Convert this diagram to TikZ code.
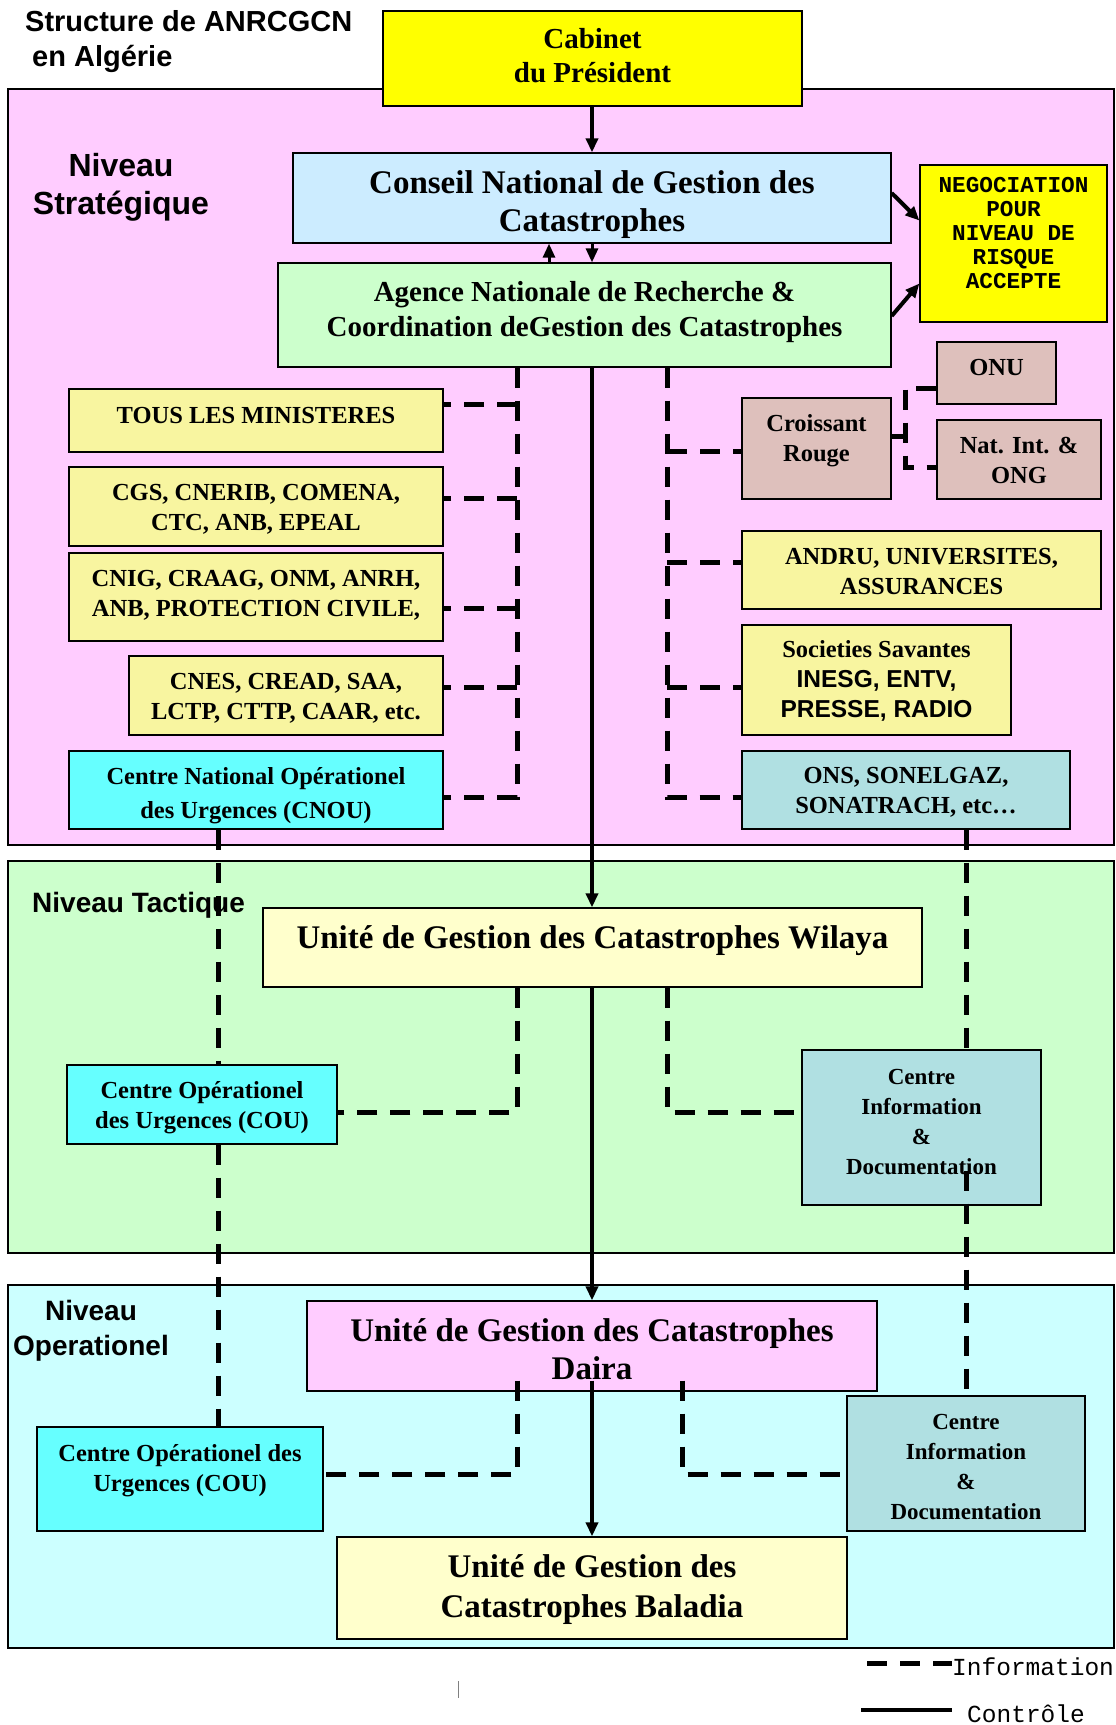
\documentclass[tikz,border=0pt]{standalone}
\usepackage{fontspec}
\setmainfont{Liberation Serif}
\setsansfont{Liberation Sans}
\setmonofont{Liberation Mono}
\usepackage{xcolor}
\usetikzlibrary{arrows.meta}
\usetikzlibrary{calc}

\definecolor{jaune}{RGB}{255,255,0}
\definecolor{jaunepale}{RGB}{248,245,160}
\definecolor{creme}{RGB}{255,255,204}
\definecolor{rose}{RGB}{255,204,255}
\definecolor{vertpale}{RGB}{204,255,204}
\definecolor{cielpale}{RGB}{204,255,255}
\definecolor{bleuciel}{RGB}{204,236,255}
\definecolor{cyanvif}{RGB}{102,255,255}
\definecolor{brique}{RGB}{222,192,188}
\definecolor{grisbleu}{RGB}{176,224,226}

% box text, lifted by #1 without changing the box
\newcommand{\monte}[2]{\raisebox{#1}[\height][\depth]{\begin{tabular}{@{}c@{}}#2\end{tabular}}}

\tikzset{
	panel/.style={draw, line width=1.5pt},
	box/.style={draw, line width=1.3pt, inner sep=0pt, font=\bfseries\fontsize{24.5}{30}\selectfont},
	ctrl/.style={line width=4pt, -{Triangle[length=14pt,width=12pt]}},
	info/.style={line width=5pt, dash pattern=on 20pt off 13pt},
	niveau/.style={inner sep=0pt, align=center, font=\sffamily\bfseries\fontsize{28}{35}\selectfont},
	legende/.style={inner sep=0pt, font=\ttfamily\fontsize{24.5}{30}\selectfont}
}

\begin{document}
\begin{tikzpicture}[x=1pt, y=-1pt] % ANRCGCN structure
	\useasboundingbox (0,0) rectangle (1116,1725);
	
	%levels
	\draw[panel, fill=rose] (8,89) rectangle (1114,845);
	\draw[panel, fill=vertpale] (8,861) rectangle (1114,1253);
	\draw[panel, fill=cielpale] (8,1285) rectangle (1114,1648);
	
	\node[niveau, align=left, anchor=north west, font=\sffamily\bfseries\fontsize{29}{35}\selectfont] (titre) at (25,10) {Structure de ANRCGCN\\\hspace*{7pt}en Algérie};
	\node[niveau, anchor=north, font=\sffamily\bfseries\fontsize{32}{38}\selectfont] (nstrat) at (121,153) {Niveau\\Stratégique};
	\node[niveau, anchor=north west] (ntact) at (32,892) {Niveau Tactique};
	\node[niveau, anchor=north] (noper) at (91,1300) {Niveau\\Operationel};
	
	%strategic boxes
	\node[box, fill=jaune, minimum width=419, minimum height=95, font=\bfseries\fontsize{29}{34}\selectfont] (cab) at (592.5,58.5) {\monte{0pt}{Cabinet\\du Président}};
	\node[box, fill=bleuciel, minimum width=598, minimum height=90, font=\bfseries\fontsize{33}{38}\selectfont] (cons) at (592,198) {\monte{-7pt}{Conseil National de Gestion des\\Catastrophes}};
	\node[box, fill=vertpale, minimum width=613, minimum height=104, font=\bfseries\fontsize{29}{35}\selectfont] (agence) at (584.5,315) {\monte{3pt}{Agence Nationale de Recherche \&\\Coordination deGestion des Catastrophes}};
	\node[box, fill=jaune, minimum width=187, minimum height=157, font=\ttfamily\bfseries\fontsize{22.7}{24}\selectfont] (nego) at (1013.5,243.5) {\monte{8pt}{NEGOCIATION\\POUR\\NIVEAU DE\\RISQUE\\ACCEPTE}};
	
	\node[box, fill=jaunepale, minimum width=374, minimum height=63] (tous) at (256,420.5) {\monte{3pt}{TOUS LES MINISTERES}};
	\node[box, fill=jaunepale, minimum width=374, minimum height=79] (cgs) at (256,506.5) {\monte{-3pt}{CGS, CNERIB, COMENA,\\CTC, ANB, EPEAL}};
	\node[box, fill=jaunepale, minimum width=374, minimum height=88] (cnig) at (256,597) {\monte{1.5pt}{CNIG, CRAAG, ONM, ANRH,\\ANB, PROTECTION CIVILE,}};
	\node[box, fill=jaunepale, minimum width=314, minimum height=79] (cnes) at (286,695.5) {\monte{-3pt}{CNES, CREAD, SAA,\\LCTP, CTTP, CAAR, etc.}};
	\node[box, fill=cyanvif, minimum width=374, minimum height=78, font=\bfseries\fontsize{24.5}{34}\selectfont] (cnou) at (256,790) {\monte{-5pt}{Centre National Opérationel\\des Urgences (CNOU)}};
	
	\node[box, fill=brique, minimum width=119, minimum height=62] (onu) at (996.5,373) {\monte{4pt}{ONU}};
	\node[box, fill=brique, minimum width=149, minimum height=101] (croix) at (816.5,448.5) {\monte{8pt}{Croissant\\Rouge}};
	\node[box, fill=brique, minimum width=164, minimum height=79] (natong) at (1019,459.5) {\monte{-3pt}{Nat. Int. \&\\ONG}};
	\node[box, fill=jaunepale, minimum width=359, minimum height=78] (andru) at (921.5,570) {\monte{-3pt}{ANDRU, UNIVERSITES,\\ASSURANCES}};
	\node[box, fill=jaunepale, minimum width=269, minimum height=110] (soc) at (876.5,680) {\monte{-1.5pt}{Societies Savantes\\{\sffamily INESG, ENTV,}\\{\sffamily PRESSE, RADIO}}};
	\node[box, fill=grisbleu, minimum width=328, minimum height=78] (ons) at (906,790) {\monte{-2.5pt}{ONS, SONELGAZ,\\SONATRACH, etc…}};
	
	%tactical boxes
	\node[box, fill=creme, minimum width=659, minimum height=79, font=\bfseries\fontsize{33}{40}\selectfont] (wil) at (592.5,947.5) {\monte{7.5pt}{Unité de Gestion des Catastrophes Wilaya}};
	\node[box, fill=cyanvif, minimum width=270, minimum height=79] (couT) at (202,1104.5) {\monte{-3pt}{Centre Opérationel\\des Urgences (COU)}};
	\node[box, fill=grisbleu, minimum width=239, minimum height=155, font=\bfseries\fontsize{23}{30}\selectfont] (cidT) at (921.5,1127.5) {\monte{4.5pt}{Centre\\Information\\\&\\Documentation}};
	
	%operational boxes
	\node[box, fill=rose, minimum width=570, minimum height=90, font=\bfseries\fontsize{33}{38}\selectfont] (daira) at (592,1346) {\monte{-7pt}{Unité de Gestion des Catastrophes\\Daira}};
	\node[box, fill=cyanvif, minimum width=286, minimum height=104] (couO) at (180,1479) {\monte{9pt}{Centre Opérationel des\\Urgences (COU)}};
	\node[box, fill=grisbleu, minimum width=238, minimum height=135, font=\bfseries\fontsize{23}{30}\selectfont] (cidO) at (966,1463.5) {\monte{-5pt}{Centre\\Information\\\&\\Documentation}};
	\node[box, fill=creme, minimum width=510, minimum height=102, font=\bfseries\fontsize{33}{40}\selectfont] (bal) at (592,1588) {\monte{-1.5pt}{Unité de Gestion des\\Catastrophes Baladia}};
	
	%junctions
	\coordinate (cx) at (592,0);
	\coordinate (ux) at (549,0);
	\coordinate (lv) at (218,0);
	\coordinate (rv) at (966,0);
	\coordinate (lg1) at (517,404);
	\coordinate (lg2) at (517,498);
	\coordinate (lg3) at (517,608);
	\coordinate (lg4) at (517,687);
	\coordinate (lg5) at (517,797);
	\coordinate (rg1) at (667,451);
	\coordinate (rg2) at (667,562);
	\coordinate (rg3) at (667,687);
	\coordinate (rg5) at (667,797);
	\coordinate (cr) at (905,436);
	\coordinate (cr1) at (905,388);
	\coordinate (cr2) at (905,467);
	\coordinate (wl) at (517,1112);
	\coordinate (wr) at (667,1112);
	\coordinate (dl) at (517,1474);
	\coordinate (dr) at (682,1474);
	
	%information links
	\draw[info] (agence.south -| lg5) -- (lg5) -- (lg5 -| cnou.east);
	\draw[info] (lg1) -- (lg1 -| tous.east);
	\draw[info] (lg2) -- (lg2 -| cgs.east);
	\draw[info] (lg3) -- (lg3 -| cnig.east);
	\draw[info] (lg4) -- (lg4 -| cnes.east);
	
	\draw[info] (agence.south -| rg5) -- (rg5) -- (rg5 -| ons.west);
	\draw[info] (rg1) -- (rg1 -| croix.west);
	\draw[info] (rg2) -- (rg2 -| andru.west);
	\draw[info] (rg3) -- (rg3 -| soc.west);
	\draw[info] (croix.east |- cr) -- (cr);
	\draw[info] (onu.west |- cr1) -- (cr1) -- (cr2) -- (natong.west |- cr2);
	
	\draw[info] (cnou.south -| lv) -- (couT.north -| lv);
	\draw[info] (couT.south -| lv) -- (couO.north -| lv);
	\draw[info] (ons.south -| rv) -- (cidT.north -| rv);
	\draw[info] ($(cidT.south -| rv)+(0,-35)$) -- (cidO.north -| rv);
	
	\draw[info] (wil.south -| wl) -- (wl) -- (wl -| couT.east);
	\draw[info] (wil.south -| wr) -- (wr) -- (wr -| cidT.west);
	\draw[info] ($(daira.south -| dl)+(0,-11)$) -- (dl) -- (dl -| couO.east);
	\draw[info] ($(daira.south -| dr)+(0,-11)$) -- (dr) -- (dr -| cidO.west);
	
	%control links
	\draw[ctrl] (cab.south -| cx) -- (cons.north -| cx);
	\draw[ctrl, line width=3pt] (cons.south -| cx) -- (agence.north -| cx);
	\draw[ctrl, line width=3pt] (agence.north -| ux) -- (cons.south -| ux);
	\draw[ctrl] ($(cons.east)+(0,-5)$) -- ($(nego.west)+(0,-23)$);
	\draw[ctrl] ($(agence.east)+(0,1)$) -- ($(nego.west)+(0,40)$);
	\draw[ctrl] (agence.south -| cx) -- (wil.north -| cx);
	\draw[ctrl] (wil.south -| cx) -- (daira.north -| cx);
	\draw[ctrl] ($(daira.south -| cx)+(0,-11)$) -- (bal.north -| cx);
	
	%legend
	\node[legende, anchor=west] (linfo) at (952,1667) {Information};
	\node[legende, anchor=west] (lctrl) at (967,1714) {Contrôle};
	\draw[info] ($(linfo.west)+(-85,-4)$) -- ($(linfo.west)+(0,-4)$);
	\draw[ctrl, -] ($(lctrl.west)+(-106,-4)$) -- ($(lctrl.west)+(-15,-4)$);
	\draw[gray, line width=0.8pt] (458,1681) -- (458,1698);
	
\end{tikzpicture}
\end{document}
